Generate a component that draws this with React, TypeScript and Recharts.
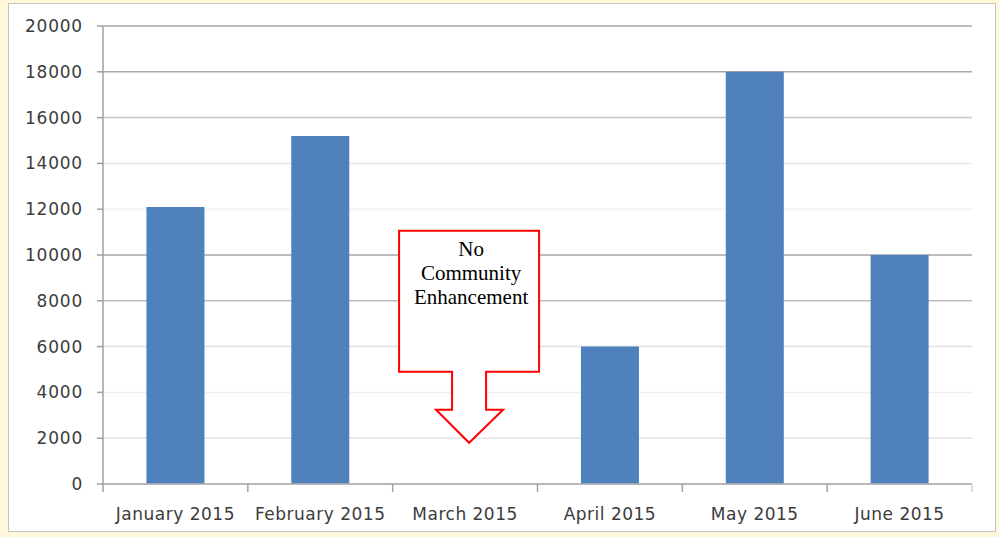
import { Bar, BarChart, CartesianGrid, ReferenceDot, XAxis, YAxis } from "recharts";

const months = ["January 2015", "February 2015", "March 2015", "April 2015", "May 2015", "June 2015"];
const enhancement = [12100, 15200, 0, 6000, 18000, 10000];
const yTicks = [0, 2000, 4000, 6000, 8000, 10000, 12000, 14000, 16000, 18000, 20000];
const noteLines = ["No", "Community", "Enhancement"];
const noteMonth = "March 2015";
const noteTipValue = 1800;

// the scanned original has uneven gridline shades, keep them per tick
const gridShades = ["#b3b3b3", "#e3e3e3", "#efefef", "#e0e0e0", "#bdbdbd", "#a6a6a6", "#f2f2f2", "#e6e6e6", "#c4c4c4", "#a8a8a8", "#a8a8a8"];

const data = months.map((month, i) => ({ month, value: enhancement[i] }));
const labelFont = "'DejaVu Sans', sans-serif";

function GridLine(props: any) {
  const { x1, x2, y1, y2, index } = props;
  return <line x1={x1} x2={x2} y1={y1} y2={y2} stroke={gridShades[index] ?? "#c0c0c0"} strokeWidth={1.5} />;
}

function MonthTick(props: any) {
  const { x, y, payload, index } = props;
  const half = payload.offset ?? 72;
  const axisY = y - 20;
  return (
    <g>
      <line x1={x - half} x2={x - half} y1={axisY} y2={axisY + 8} stroke="#a0a0a0" strokeWidth={1.5} />
      {index === months.length - 1 && (
        <line x1={x + half} x2={x + half} y1={axisY} y2={axisY + 8} stroke="#d0d0d0" strokeWidth={1.5} />
      )}
      <text x={x} y={axisY + 36} textAnchor="middle" fill="#3c3c3c" fontSize={17} fontFamily={labelFont} letterSpacing={0.5}>
        {payload.value}
      </text>
    </g>
  );
}

function NoteArrow(props: any) {
  const { cx, cy } = props;
  const tx = cx + 4;
  const pts = [
    [tx - 70, cy - 212],
    [tx + 70, cy - 212],
    [tx + 70, cy - 71],
    [tx + 17, cy - 71],
    [tx + 17, cy - 33],
    [tx + 34, cy - 33],
    [tx, cy],
    [tx - 33, cy - 33],
    [tx - 17, cy - 33],
    [tx - 17, cy - 71],
    [tx - 70, cy - 71],
  ];
  return (
    <g>
      <polygon points={pts.map((p) => p.join(",")).join(" ")} fill="#fff" stroke="#ff0000" strokeWidth={2} />
      {noteLines.map((line, i) => (
        <text
          key={line}
          x={tx + 2}
          y={cy - 187 + i * 24}
          textAnchor="middle"
          fill="#000"
          fontSize={21}
          fontFamily="'Liberation Serif', serif"
        >
          {line}
        </text>
      ))}
    </g>
  );
}

export default function App() {
  return (
    <div style={{ position: "absolute", left: 0, top: 0, width: 999, height: 537, background: "#fff8da" }}>
      <div
        style={{
          position: "absolute",
          left: 8,
          top: 3,
          width: 986,
          height: 527,
          background: "#fff",
          border: "1px solid #c4c4c4",
        }}
      />
      <div style={{ position: "absolute", left: 0, top: 0 }}>
        <BarChart width={999} height={537} data={data} margin={{ top: 26, right: 27, bottom: 23, left: 8 }} barCategoryGap="30%">
          <CartesianGrid vertical={false} horizontal={(p: any) => <GridLine {...p} />} />
          <XAxis
            dataKey="month"
            height={30}
            axisLine={{ stroke: "#b3b3b3", strokeWidth: 1.5 }}
            tickLine={false}
            tickSize={8}
            tickMargin={12}
            interval={0}
            tick={<MonthTick />}
          />
          <YAxis
            domain={[0, 20000]}
            ticks={yTicks}
            width={95}
            axisLine={{ stroke: "#a0a0a0", strokeWidth: 1.5 }}
            tickLine={{ stroke: "#a0a0a0", strokeWidth: 1.5 }}
            tickSize={6}
            tickMargin={14}
            tick={{ fill: "#3c3c3c", fontSize: 17, fontFamily: labelFont, letterSpacing: 0.8 }}
          />
          <Bar dataKey="value" fill="#4f81bd" isAnimationActive={false} />
          <ReferenceDot x={noteMonth} y={noteTipValue} r={0} shape={(p: any) => <NoteArrow {...p} />} />
        </BarChart>
      </div>
    </div>
  );
}
